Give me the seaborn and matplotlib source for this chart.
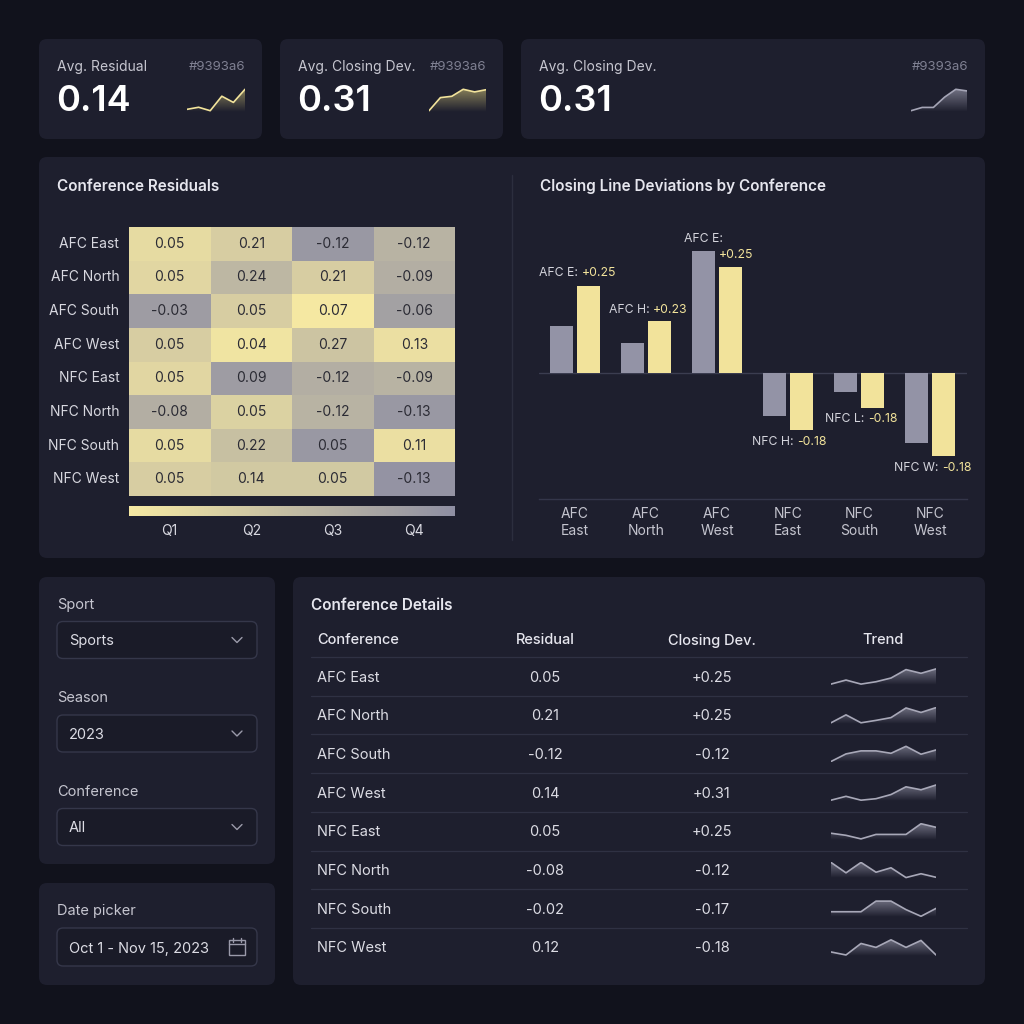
import numpy as np
import pandas as pd
import matplotlib.pyplot as plt
import seaborn as sns
from matplotlib.patches import FancyBboxPatch, Rectangle
from matplotlib.lines import Line2D
from matplotlib.colors import LinearSegmentedColormap, to_rgb

sns.set_theme(style="dark")
plt.rcParams['font.family'] = ['Inter', 'DejaVu Sans']

# ---- data ----
kpi_titles = ['Avg. Residual', 'Avg. Closing Dev.', 'Avg. Closing Dev.']
kpi_values = ['0.14', '0.31', '0.31']
kpi_tag = '#9393a6'
kpi_trends = [[4, 10, 0, 42, 24, 62],
              [0, 30, 33, 49, 43, 48],
              [0, 8, 8, 33, 52, 48]]

conferences = ['AFC East', 'AFC North', 'AFC South', 'AFC West',
               'NFC East', 'NFC North', 'NFC South', 'NFC West']
quarters = ['Q1', 'Q2', 'Q3', 'Q4']
residual_grid = [[0.05, 0.21, -0.12, -0.12],
                 [0.05, 0.24, 0.21, -0.09],
                 [-0.03, 0.05, 0.07, -0.06],
                 [0.05, 0.04, 0.27, 0.13],
                 [0.05, 0.09, -0.12, -0.09],
                 [-0.08, 0.05, -0.12, -0.13],
                 [0.05, 0.22, 0.05, 0.11],
                 [0.05, 0.14, 0.05, -0.13]]
# cell tint (0 = yellow, 1 = grey)
cell_shade = [[0.15, 0.30, 0.90, 0.60],
              [0.20, 0.55, 0.30, 0.65],
              [0.85, 0.30, 0.00, 0.80],
              [0.30, 0.05, 0.40, 0.10],
              [0.20, 0.85, 0.65, 0.60],
              [0.65, 0.25, 0.60, 0.90],
              [0.15, 0.45, 0.90, 0.10],
              [0.30, 0.35, 0.35, 0.95]]

bar_groups = ['AFC\nEast', 'AFC\nNorth', 'AFC\nWest', 'NFC\nEast', 'NFC\nSouth', 'NFC\nWest']
bar_residual = [0.135, 0.085, 0.35, -0.125, -0.055, -0.20]
bar_closing = [0.25, 0.15, 0.305, -0.165, -0.10, -0.24]
bar_labels = [('AFC E:', '+0.25'), ('AFC H:', '+0.23'), ('AFC E:', '+0.25'),
              ('NFC H:', '-0.18'), ('NFC L:', '-0.18'), ('NFC W:', '-0.18')]

table_residual = ['0.05', '0.21', '-0.12', '0.14', '0.05', '-0.08', '-0.02', '0.12']
table_closing = ['+0.25', '+0.25', '-0.12', '+0.31', '+0.25', '-0.12', '-0.17', '-0.18']
table_trends = [[0, 12, 0, 7, 18, 43, 32, 45],
                [0, 23, 0, 7, 15, 43, 30, 44],
                [0, 25, 35, 35, 27, 50, 24, 38],
                [0, 13, 0, 5, 19, 45, 35, 51],
                [19, 12, 0, 15, 15, 15, 51, 39],
                [51, 16, 51, 18, 33, 0, 13, 1],
                [15, 15, 15, 50, 50, 22, 0, 26],
                [10, 0, 38, 25, 50, 25, 48, 0]]

filter_labels = ['Sport', 'Season', 'Conference']
filter_values = ['Sports', '2023', 'All']
date_range = 'Oct 1 - Nov 15, 2023'

# ---- style ----
BG = '#11121c'
CARD = '#1e1f2e'
BOX = '#1a1b28'
EDGE = '#35374a'
YELLOW = '#f2e39b'
GREY = '#9393a6'
TXT = '#e6e6ee'
SUB = '#c6c6d0'
MUTED = '#7f8092'

W = H = 1024
fig = plt.figure(figsize=(10.24, 10.24), dpi=100, facecolor=BG)


def R(x0, y0, x1, y1):
    return [x0 / W, 1 - y1 / H, (x1 - x0) / W, (y1 - y0) / H]


def card(x0, y0, x1, y1, fc=CARD, ec='none', r=8, lw=1):
    fig.patches.append(FancyBboxPatch((x0 / W, 1 - y1 / H), (x1 - x0) / W, (y1 - y0) / H,
                                      boxstyle=f"round,pad=0,rounding_size={r / W}",
                                      transform=fig.transFigure, fc=fc, ec=ec, lw=lw, zorder=1))


def T(x, y, s, **kw):
    kw.setdefault('va', 'center')
    return fig.text(x / W, 1 - (y + 1.5) / H, s, zorder=4, **kw)


def line(xs, ys, **kw):
    fig.add_artist(Line2D([x / W for x in xs], [1 - y / H for y in ys], zorder=3, **kw))


def add_ax(rect):
    ax = fig.add_axes(R(*rect))
    ax.set_zorder(5)
    ax.set_facecolor('none')
    return ax


def spark(rect, vals, color, fill, alpha=0.55, lw=1.3):
    ax = add_ax(rect)
    x = np.arange(len(vals))
    y = np.array(vals, dtype=float)
    lo, hi = y.min(), y.max()
    pad = (hi - lo) * 0.06
    ymin = lo - pad
    poly = ax.fill_between(x, y, ymin, color='none')
    rgba = np.zeros((64, 1, 4))
    rgba[..., :3] = to_rgb(fill)
    rgba[..., 3] = np.linspace(0.0, alpha, 64)[:, None]
    img = ax.imshow(rgba, extent=[0, len(vals) - 1, ymin, hi + pad],
                    aspect='auto', origin='lower', zorder=1)
    img.set_clip_path(poly.get_paths()[0], transform=ax.transData)
    sns.lineplot(x=x, y=y, ax=ax, color=color, lw=lw, zorder=2)
    ax.set_xlim(0, len(vals) - 1)
    ax.set_ylim(ymin, hi + pad)
    ax.axis('off')
    return ax


# ---- KPI cards ----
kpi_boxes = [(39, 262), (280, 503), (521, 985)]
kpi_spark = [(187, 245), (429, 486), (911, 967)]
kpi_line = [YELLOW, YELLOW, '#a5a5b6']
kpi_fill = ['#b8ad6e', '#b8ad6e', '#9a9aac']
for i, (x0, x1) in enumerate(kpi_boxes):
    card(x0, 39, x1, 139)
    T(x0 + 18, 65, kpi_titles[i], color=SUB, fontsize=10)
    T(x1 - 17, 65, kpi_tag, color=MUTED, fontsize=9.5, ha='right')
    T(x0 + 17, 100, kpi_values[i], color='white', fontsize=26, fontweight='semibold')
    sx0, sx1 = kpi_spark[i]
    spark((sx0, 88, sx1, 112), kpi_trends[i], kpi_line[i], kpi_fill[i], alpha=0.7, lw=1.2)

# ---- main chart card ----
card(39, 157, 985, 558)
line([512, 512], [175, 540], color='#2c2e3e', lw=1)
T(57, 185, 'Conference Residuals', color=TXT, fontsize=11, fontweight='semibold')
T(540, 185, 'Closing Line Deviations by Conference', color=TXT, fontsize=11, fontweight='semibold')

# heatmap
cmap = LinearSegmentedColormap.from_list('yg', ['#f5e8a2', '#8f8fa3'])
shade_df = pd.DataFrame(cell_shade, index=conferences, columns=quarters)
annot = np.array([[f"{v:.2f}" for v in row] for row in residual_grid])
hax = add_ax((129, 227, 455, 496))
cax = add_ax((129, 506, 455, 516))
sns.heatmap(shade_df, annot=annot, fmt='', cmap=cmap, vmin=0, vmax=1, ax=hax,
            cbar_ax=cax, cbar_kws={'orientation': 'horizontal'},
            annot_kws={'size': 10, 'color': '#2b2b34'}, linewidths=0)
hax.set_xlabel('')
hax.set_ylabel('')
hax.tick_params(axis='y', length=0, pad=7, labelsize=10, labelcolor='#d8d8e0', rotation=0)
hax.tick_params(axis='x', length=0, pad=20, labelsize=10, labelcolor='#d8d8e0')
cax.set_xticks([])
cax.set_yticks([])
hax.collections[0].colorbar.outline.set_visible(False)

# grouped bars
bar_df = pd.DataFrame({
    'group': bar_groups * 2,
    'metric': ['Residual'] * len(bar_groups) + ['Closing Dev.'] * len(bar_groups),
    'value': bar_residual + bar_closing,
})
bax = add_ax((539, 230, 967, 499))
sns.barplot(data=bar_df, x='group', y='value', hue='metric', palette=[GREY, YELLOW],
            width=0.75, gap=0.12, saturation=1, ax=bax, legend=False,
            linewidth=0, edgecolor='none')
bax.set_ylim(-0.362, 0.41)
bax.set_xlim(-0.507, 5.52)
bax.axhline(0, color='#3b3d50', lw=1, zorder=0)
for s in ['top', 'left', 'right']:
    bax.spines[s].set_visible(False)
bax.spines['bottom'].set_color('#34364a')
bax.spines['bottom'].set_linewidth(1)
bax.set_xlabel('')
bax.set_ylabel('')
bax.set_yticks([])
bax.tick_params(axis='x', length=0, pad=6, labelsize=10, labelcolor='#c4c4ce')
bax.grid(False)

label_pos = [(-0.507, 0.287), (0.479, 0.181), None, (2.493, -0.198), (3.521, -0.132), (4.493, -0.273)]
for (name, val), pos in zip(bar_labels, label_pos):
    if pos is None:
        continue
    t = bax.text(pos[0], pos[1], name + ' ', color='#d4d4dc', fontsize=8.8, va='center', ha='left')
    bax.annotate(val, xy=(1, 0.5), xycoords=t, color=YELLOW, fontsize=8.8, va='center', ha='left')
bax.text(1.535, 0.385, bar_labels[2][0], color='#d4d4dc', fontsize=8.8, va='center', ha='left')
bax.text(2.028, 0.339, bar_labels[2][1], color=YELLOW, fontsize=8.8, va='center', ha='left')

# ---- filters ----
card(39, 577, 275, 864)
for i, (lab, val) in enumerate(zip(filter_labels, filter_values)):
    cy = 640 + i * 93.5
    T(57, cy - 37, lab, color=SUB, fontsize=10.5)
    card(57, cy - 18.5, 257, cy + 18.5, fc=BOX, ec=EDGE, r=6, lw=1)
    T(69, cy, val, color='#dcdce4', fontsize=10.5)
    line([232, 237, 242], [cy - 2.5, cy + 2.5, cy - 2.5], color='#9a9aaa', lw=1)

card(39, 883, 275, 985)
T(57, 909, 'Date picker', color=SUB, fontsize=10.5)
card(57, 928, 257, 966, fc=BOX, ec=EDGE, r=6, lw=1)
T(69, 947, date_range, color='#dcdce4', fontsize=10.5)
fig.add_artist(Rectangle((229 / W, 1 - 955 / H), 16 / W, 15 / H, transform=fig.transFigure,
                         fill=False, ec='#9a9aaa', lw=1, zorder=3))
line([229, 245], [944, 944], color='#9a9aaa', lw=1)
line([233, 233], [938, 942], color='#9a9aaa', lw=1)
line([241, 241], [938, 942], color='#9a9aaa', lw=1)

# ---- table ----
card(293, 577, 985, 985)
T(311, 604, 'Conference Details', color=TXT, fontsize=11, fontweight='semibold')
T(317, 639, 'Conference', color=TXT, fontsize=10.5, fontweight='medium')
T(545, 639, 'Residual', color=TXT, fontsize=10.5, fontweight='medium', ha='center')
T(712, 639, 'Closing Dev.', color=TXT, fontsize=10.5, fontweight='medium', ha='center')
T(883, 639, 'Trend', color=TXT, fontsize=10.5, fontweight='medium', ha='center')
for i, conf in enumerate(conferences):
    cy = 676 + i * 38.7
    line([311, 967], [cy - 19, cy - 19], color='#2f3143', lw=0.9)
    T(317, cy, conf, color='#dcdce4', fontsize=10.5)
    T(545, cy, table_residual[i], color='#dcdce4', fontsize=10.5, ha='center')
    T(712, cy, table_closing[i], color='#dcdce4', fontsize=10.5, ha='center')
    spark((831, cy - 8, 936, cy + 9), table_trends[i], '#a8a8b8', '#8a8a9c', alpha=0.75, lw=1.2)

fig.savefig('out.png', dpi=100, facecolor=BG)
